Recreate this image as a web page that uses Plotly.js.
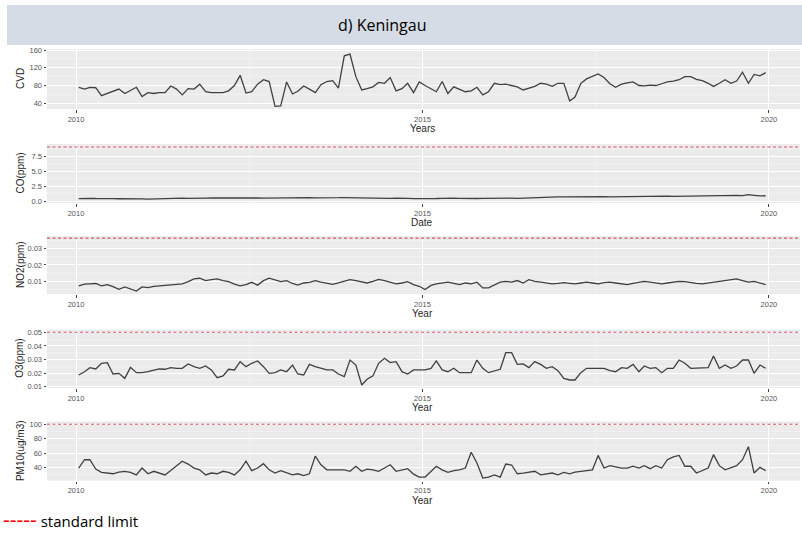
<!DOCTYPE html>
<html>
<head>
<meta charset="utf-8">
<script src="https://cdn.plot.ly/plotly-3.0.1.min.js"></script>
<style>html,body{margin:0;padding:0;background:#fff;}#chart{width:802px;height:534px;}</style>
</head>
<body>
<div id="chart"></div>
<script>
// ---------- data (monthly, starting Jan 2010) ----------
const startYear = 2010;
const cvd = [76,72,76,75,57,62,68,72,62,68, 76,55,64,62,64,64,79,72,59,73,
  72,83,66,64,64,64,68,80,103,63, 66,83,93,89,33,34,88,61,67,79,
  72,64,82,89,91,74,147,151,100,70, 73,77,87,85,98,68,73,85,64,88,
  80,72,66,89,62,77,72,66,68,76, 59,66,85,82,83,80,77,70,74,78,
  85,83,78,85,85,45,54,85,95,100, 106,98,84,76,83,86,88,80,79,81,
  80,84,88,90,93,100,100,94,91,85, 78,85,93,85,90,110,85,105,102,109];
const co = [0.40,0.45,0.45,0.42,0.45,0.42,0.40,0.38,0.40,0.42, 0.40,0.35,0.30,0.35,0.38,0.40,0.42,0.45,0.48,0.45,
  0.42,0.45,0.48,0.50,0.48,0.45,0.42,0.45,0.50,0.52, 0.55,0.50,0.48,0.50,0.52,0.55,0.52,0.50,0.55,0.58,
  0.55,0.52,0.50,0.48,0.52,0.55,0.58,0.55,0.52,0.50, 0.45,0.42,0.40,0.42,0.45,0.48,0.50,0.45,0.40,0.38,
  0.35,0.40,0.42,0.45,0.50,0.48,0.45,0.40,0.35,0.42, 0.45,0.48,0.50,0.52,0.50,0.48,0.45,0.50,0.55,0.58,
  0.60,0.62,0.65,0.68,0.70,0.72,0.70,0.68,0.70,0.72, 0.75,0.72,0.70,0.72,0.75,0.78,0.75,0.72,0.75,0.78,
  0.80,0.82,0.80,0.78,0.80,0.85,0.82,0.80,0.85,0.88, 0.90,0.92,0.95,1.00,0.95,0.90,1.05,0.95,0.85,0.88];
const no2 = [0.0073,0.0083,0.0085,0.0087,0.0073,0.0080,0.0068,0.0051,0.0066,0.0056, 0.0041,0.0066,0.0062,0.0070,0.0072,0.0077,0.0080,0.0083,0.0085,0.0098,
  0.0115,0.0119,0.0104,0.0111,0.0115,0.0105,0.0098,0.0083,0.0073,0.0080, 0.0094,0.0077,0.0104,0.0119,0.0108,0.0098,0.0104,0.0087,0.0077,0.0090,
  0.0094,0.0104,0.0095,0.0088,0.0082,0.0090,0.0100,0.0110,0.0105,0.0095, 0.0090,0.0100,0.0112,0.0105,0.0095,0.0085,0.0090,0.0098,0.0080,0.0070,
  0.0050,0.0075,0.0085,0.0090,0.0095,0.0088,0.0080,0.0090,0.0085,0.0095, 0.0060,0.0060,0.0080,0.0095,0.0100,0.0095,0.0105,0.0090,0.0110,0.0100,
  0.0095,0.0090,0.0085,0.0088,0.0092,0.0088,0.0085,0.0090,0.0095,0.0090, 0.0085,0.0092,0.0095,0.0090,0.0085,0.0080,0.0088,0.0095,0.0100,0.0095,
  0.0090,0.0085,0.0090,0.0095,0.0100,0.0098,0.0092,0.0088,0.0085,0.0090, 0.0095,0.0100,0.0105,0.0110,0.0115,0.0105,0.0095,0.0100,0.0090,0.0080];
const o3 = [0.0186,0.021,0.024,0.023,0.0272,0.0277,0.0193,0.0198,0.0161,0.0242,
  0.0203,0.0203,0.021,0.0218,0.023,0.0228,0.024,0.0235,0.0235,0.0267,
  0.0247,0.0235,0.0252,0.0223,0.0166,0.0179,0.0228,0.0223,0.0284,0.0247,
  0.0272,0.0289,0.0247,0.0198,0.0203,0.0223,0.021,0.0259,0.0193,0.0186,
  0.0264,0.0247,0.0235,0.0223,0.0223,0.0193,0.0174,0.0296,0.0259,0.0112,
  0.0154,0.0179,0.0272,0.0309,0.0277,0.0284,0.021,0.0193,0.0223,0.0223,
  0.0223,0.0235,0.0289,0.0223,0.021,0.0235,0.0203,0.0203,0.0203,0.0296,
  0.0235,0.0203,0.0218,0.0228,0.035,0.035,0.0264,0.0267,0.024,0.0284,
  0.0264,0.0235,0.0247,0.0218,0.0161,0.0149,0.0149,0.0203,0.0235,0.0235,
  0.0235,0.0235,0.0218,0.021,0.024,0.0235,0.0264,0.021,0.0252,0.0235,
  0.024,0.0203,0.0235,0.0235,0.0296,0.0272,0.0235,0.0235,0.0235,0.024,
  0.0326,0.0235,0.0259,0.0235,0.0252,0.0296,0.0296,0.0198,0.0259,0.0235];
const pm10 = [39.5,51,51,38,33.5,32.6,31.6,34,35,33.5, 30,39.5,31.6,35,32.6,30,36,42,49,45,
  39.5,37,30,32.6,31.6,35,33.5,30,37,49, 36,39.5,45.5,37,32.6,36,33.5,30,31.6,29,
  31.6,56,44,37,37,37,37,35,42,35, 38,37,35,39.5,44,35,37,38.6,31,27,
  27,35,42,37,33.5,36,37,39.5,61.4,46.5, 25.6,27,30,27,45,43.7,31.6,32.6,33.5,35,
  30,31,32.6,30,33.5,31.6,34,35,36,37, 57,39.5,42.8,41,39.5,39.5,42,39.5,42.8,38.6,
  42.8,39.5,51,55,57,42,42,32.6,36,39.5, 58,42.8,37,39.5,42.8,51,69,32.6,40.5,36];

const panelNames = ['CVD','CO(ppm)','NO2(ppm)','O3(ppm)','PM10(ug/m3)'];
const xTitles = ['Years','Date','Year','Year','Year'];
const limits = [null, 9, 0.0363, 0.05, 100];
const yTickVals = [[40,80,120,160],[0,2.5,5,7.5],[0.01,0.02,0.03],[0.01,0.02,0.03,0.04,0.05],[40,60,80,100]];
const yTickText = [['40','80','120','160'],['0.0','2.5','5.0','7.5'],['0.01','0.02','0.03'],['0.01','0.02','0.03','0.04','0.05'],['40','60','80','100']];
const yMinorVals = [[60,100,140],[1.25,3.75,6.25,8.75],[0.005,0.015,0.025,0.035],[0.015,0.025,0.035,0.045],[30,50,70,90]];
const xTickYears = ['2010','2015','2020'];
const series = [cvd, co, no2, o3, pm10];

// ---------- layout geometry (pixels) ----------
const W = 802, H = 534;
const pxTop = [49, 144, 236, 329.6, 421.4];
const pxBot = [109, 203, 294, 388, 480.7];
const yRanges = [[27.1,162.3],[-0.33,9.5],[0.0023,0.0376],[0.009,0.052],[22,104]];
const xTitleY = [128, 222, 313, 407, 500];

function monthDates(n){
  const out=[];
  for(let i=0;i<n;i++){
    const y = startYear + Math.floor(i/12), m = i%12+1;
    out.push(y+'-'+String(m).padStart(2,'0')+'-15');
  }
  return out;
}

const traces=[], shapes=[], annotations=[];
const layout = {
  width: W, height: H, margin:{l:0,r:0,t:0,b:0},
  paper_bgcolor:'#ffffff', plot_bgcolor:'#ebebeb', showlegend:false,
  font:{family:'Liberation Sans, Arial, sans-serif', color:'#4d4d4d'}
};

series.forEach((vals,k)=>{
  const sx = k===0?'':String(k+1);
  traces.push({
    type:'scatter', mode:'lines', x: monthDates(vals.length), y: vals,
    xaxis:'x'+sx, yaxis:'y'+sx,
    line:{color:'#404040', width:1.3}, hoverinfo:'skip'
  });
  layout['xaxis'+sx] = {
    domain:[47/W, 800/W], anchor:'y'+sx, type:'date',
    range:['2009-08-01','2020-06-13'],
    tickmode:'array', tickvals: xTickYears.map(y=>y+'-01-01'), ticktext: xTickYears,
    ticks:'outside', ticklen:2.5, tickcolor:'#444', tickwidth:1,
    tickfont:{size:7.5, color:'#555'},
    showgrid:true, gridcolor:'#ffffff', gridwidth:1,
    minor:{tickmode:'array', tickvals:['2012-07-02','2017-07-02'], showgrid:true, gridcolor:'#f5f5f5', gridwidth:0.6, ticks:''},
    zeroline:false, showline:false, fixedrange:true
  };
  layout['yaxis'+sx] = {
    domain:[1-pxBot[k]/H, 1-pxTop[k]/H], anchor:'x'+sx,
    range: yRanges[k],
    tickmode:'array', tickvals: yTickVals[k], ticktext: yTickText[k],
    ticks:'outside', ticklen:2.5, tickcolor:'#444', tickwidth:1,
    tickfont:{size:7.5, color:'#555'},
    showgrid:true, gridcolor:'#ffffff', gridwidth:1,
    minor:{tickmode:'array', tickvals: yMinorVals[k], showgrid:true, gridcolor:'#f5f5f5', gridwidth:0.6, ticks:''},
    zeroline:false, showline:false, fixedrange:true
  };
  if(limits[k]!==null){
    shapes.push({type:'line', xref:'x'+sx+' domain', yref:'y'+sx, x0:0, x1:1, y0:limits[k], y1:limits[k],
      line:{color:'#e0506a', width:1.1, dash:'3px,2.5px'}, layer:'above'});
  }
  annotations.push({xref:'paper', yref:'paper', x:20/W, y:1-((pxTop[k]+pxBot[k])/2)/H,
    text: panelNames[k], textangle:-90, showarrow:false, xanchor:'center', yanchor:'middle',
    font:{size:10, color:'#1f1f1f', family:'Liberation Sans, Arial, sans-serif'}});
  annotations.push({xref:'paper', yref:'paper', x:422/W, y:1-xTitleY[k]/H,
    text: xTitles[k], showarrow:false, xanchor:'center', yanchor:'middle',
    font:{size:10, color:'#1f1f1f', family:'Liberation Sans, Arial, sans-serif'}});
});

// title bar
shapes.push({type:'rect', xref:'paper', yref:'paper', x0:7/W, x1:1, y0:1-45/H, y1:1-5/H,
  fillcolor:'#d6dce5', line:{width:0}, layer:'below'});
annotations.push({xref:'paper', yref:'paper', x:382/W, y:1-25/H, text:'d) Keningau', showarrow:false,
  xanchor:'center', yanchor:'middle', font:{size:16, color:'#000', family:'Open Sans, Noto Sans, sans-serif'}});
// footer
annotations.push({xref:'paper', yref:'paper', x:1/W, y:1-519/H, xanchor:'left', yanchor:'middle', showarrow:false,
  text:'<span style="color:#ff0000;font-size:21px">-----</span> standard limit',
  font:{size:15, color:'#000', family:'Open Sans, Noto Sans, sans-serif'}});

layout.shapes = shapes;
layout.annotations = annotations;
Plotly.newPlot('chart', traces, layout, {displayModeBar:false, staticPlot:true});
</script>
</body>
</html>
